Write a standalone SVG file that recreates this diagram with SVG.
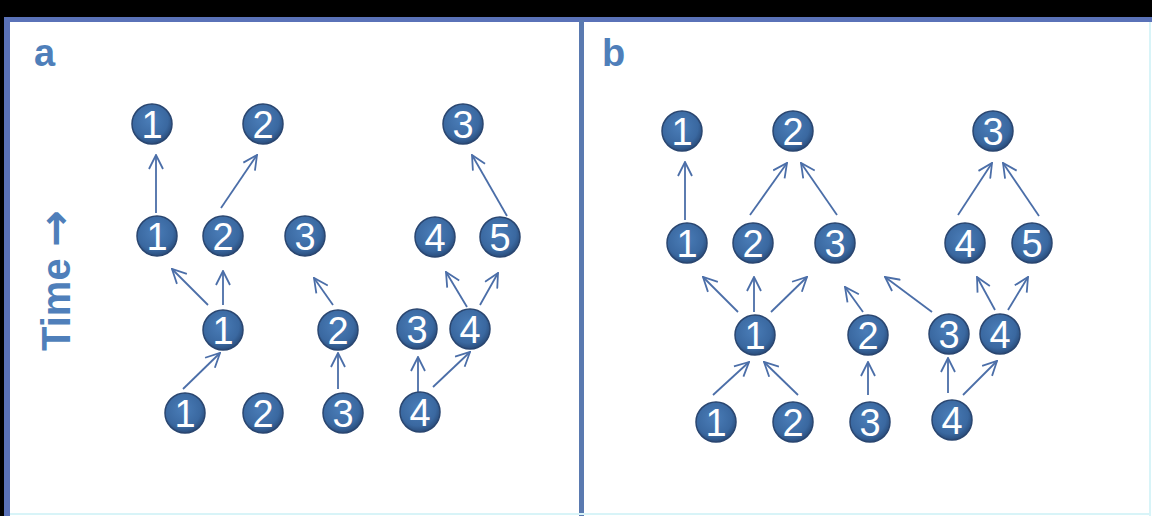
<svg xmlns="http://www.w3.org/2000/svg" width="1152" height="516" viewBox="0 0 1152 516">
<style>
.node circle{fill:url(#ng);stroke:#2A4670;stroke-width:1.5}
.node text{font-family:"Liberation Sans",Arial,sans-serif;font-size:38px;fill:#ffffff;text-anchor:middle}
.edges line{stroke:#4B6EA8;stroke-width:1.8;fill:none;marker-end:url(#ah)}
.lbl{font-family:"Liberation Sans",Arial,sans-serif;font-weight:bold;fill:#4F7FBA}
</style>
<defs>
<radialGradient id="ng" cx="0.45" cy="0.4" r="0.6">
<stop offset="0" stop-color="#4A7DB8"/>
<stop offset="0.75" stop-color="#3A68A0"/>
<stop offset="1" stop-color="#2A4D7C"/>
</radialGradient>
<marker id="ah" viewBox="0 0 16 16" refX="15" refY="8" markerWidth="16" markerHeight="16" markerUnits="userSpaceOnUse" orient="auto">
<path d="M1,1 L15,8 L1,15" fill="none" stroke="#4B6EA8" stroke-width="1.8"/>
</marker>
</defs>
<rect x="0" y="0" width="1152" height="516" fill="#ffffff"/>
<rect x="0" y="0" width="1152" height="17" fill="#000000"/>
<rect x="0" y="0" width="4" height="516" fill="#000000"/>
<rect x="4" y="17" width="1148" height="5" fill="#5A72B8"/>
<rect x="4" y="17" width="6" height="499" fill="#5A72B8"/>
<rect x="579" y="20" width="5" height="496" fill="#5A7AB0"/>
<rect x="1149" y="22" width="2" height="494" fill="#D8F4F8"/>
<rect x="10" y="513" width="1140" height="2" fill="#D8F4F8"/>

<text class="lbl" x="34" y="66" font-size="38">a</text>
<text class="lbl" x="602" y="66" font-size="38">b</text>
<text class="lbl" font-size="40" transform="translate(70,351) rotate(-90)">Time <tspan font-family="'DejaVu Sans',sans-serif" font-size="44">→</tspan></text>

<g class="edges" id="connectors">
<line x1="156" y1="213" x2="156" y2="155"/>
<line x1="221" y1="208" x2="257" y2="155"/>
<line x1="507" y1="216" x2="472" y2="155"/>
<line x1="208" y1="305" x2="172" y2="269"/>
<line x1="223" y1="305" x2="223" y2="271"/>
<line x1="333" y1="305" x2="314" y2="278"/>
<line x1="467" y1="307" x2="446" y2="272"/>
<line x1="480" y1="305" x2="498" y2="273"/>
<line x1="183" y1="389" x2="220" y2="353"/>
<line x1="338" y1="389" x2="338" y2="353"/>
<line x1="418" y1="392" x2="418" y2="357"/>
<line x1="433" y1="387" x2="470" y2="352"/>

<line x1="685" y1="220" x2="685" y2="162"/>
<line x1="750" y1="215" x2="787" y2="163"/>
<line x1="837" y1="215" x2="801" y2="163"/>
<line x1="958" y1="215" x2="992" y2="163"/>
<line x1="1039" y1="216" x2="1003" y2="163"/>
<line x1="738" y1="312" x2="703" y2="277"/>
<line x1="754" y1="312" x2="754" y2="277"/>
<line x1="771" y1="312" x2="807" y2="277"/>
<line x1="863" y1="312" x2="845" y2="287"/>
<line x1="932" y1="312" x2="885" y2="277"/>
<line x1="995" y1="310" x2="977" y2="277"/>
<line x1="1008" y1="310" x2="1028" y2="277"/>
<line x1="713" y1="395" x2="749" y2="362"/>
<line x1="798" y1="395" x2="764" y2="362"/>
<line x1="868" y1="395" x2="868" y2="362"/>
<line x1="948" y1="393" x2="948" y2="358"/>
<line x1="963" y1="395" x2="997" y2="361"/>
</g>

<g class="node" id="a-t1"><circle cx="152" cy="124" r="20"/><text x="152" y="137.5">1</text></g>
<g class="node" id="a-t2"><circle cx="263" cy="124" r="20"/><text x="263" y="137.5">2</text></g>
<g class="node" id="a-t3"><circle cx="463" cy="124" r="20"/><text x="463" y="137.5">3</text></g>
<g class="node" id="a-m1"><circle cx="157" cy="236" r="20"/><text x="157" y="249.5">1</text></g>
<g class="node" id="a-m2"><circle cx="223" cy="236" r="20"/><text x="223" y="249.5">2</text></g>
<g class="node" id="a-m3"><circle cx="305" cy="236" r="20"/><text x="305" y="249.5">3</text></g>
<g class="node" id="a-m4"><circle cx="435" cy="237" r="20"/><text x="435" y="250.5">4</text></g>
<g class="node" id="a-m5"><circle cx="500" cy="237" r="20"/><text x="500" y="250.5">5</text></g>
<g class="node" id="a-l1"><circle cx="223" cy="330" r="20"/><text x="223" y="343.5">1</text></g>
<g class="node" id="a-l2"><circle cx="338" cy="330" r="20"/><text x="338" y="343.5">2</text></g>
<g class="node" id="a-l3"><circle cx="417" cy="329" r="20"/><text x="417" y="342.5">3</text></g>
<g class="node" id="a-l4"><circle cx="470" cy="329" r="20"/><text x="470" y="342.5">4</text></g>
<g class="node" id="a-b1"><circle cx="185" cy="413" r="20"/><text x="185" y="426.5">1</text></g>
<g class="node" id="a-b2"><circle cx="263" cy="413" r="20"/><text x="263" y="426.5">2</text></g>
<g class="node" id="a-b3"><circle cx="343" cy="413" r="20"/><text x="343" y="426.5">3</text></g>
<g class="node" id="a-b4"><circle cx="420" cy="412" r="20"/><text x="420" y="425.5">4</text></g>

<g class="node" id="b-t1"><circle cx="682" cy="131" r="20"/><text x="682" y="144.5">1</text></g>
<g class="node" id="b-t2"><circle cx="793" cy="131" r="20"/><text x="793" y="144.5">2</text></g>
<g class="node" id="b-t3"><circle cx="993" cy="131" r="20"/><text x="993" y="144.5">3</text></g>
<g class="node" id="b-m1"><circle cx="687" cy="243" r="20"/><text x="687" y="256.5">1</text></g>
<g class="node" id="b-m2"><circle cx="753" cy="243" r="20"/><text x="753" y="256.5">2</text></g>
<g class="node" id="b-m3"><circle cx="835" cy="243" r="20"/><text x="835" y="256.5">3</text></g>
<g class="node" id="b-m4"><circle cx="965" cy="243" r="20"/><text x="965" y="256.5">4</text></g>
<g class="node" id="b-m5"><circle cx="1032" cy="243" r="20"/><text x="1032" y="256.5">5</text></g>
<g class="node" id="b-l1"><circle cx="755" cy="335" r="20"/><text x="755" y="348.5">1</text></g>
<g class="node" id="b-l2"><circle cx="868" cy="335" r="20"/><text x="868" y="348.5">2</text></g>
<g class="node" id="b-l3"><circle cx="949" cy="334" r="20"/><text x="949" y="347.5">3</text></g>
<g class="node" id="b-l4"><circle cx="1000" cy="334" r="20"/><text x="1000" y="347.5">4</text></g>
<g class="node" id="b-b1"><circle cx="716" cy="422" r="20"/><text x="716" y="435.5">1</text></g>
<g class="node" id="b-b2"><circle cx="793" cy="422" r="20"/><text x="793" y="435.5">2</text></g>
<g class="node" id="b-b3"><circle cx="870" cy="422" r="20"/><text x="870" y="435.5">3</text></g>
<g class="node" id="b-b4"><circle cx="952" cy="420" r="20"/><text x="952" y="433.5">4</text></g>
</svg>
